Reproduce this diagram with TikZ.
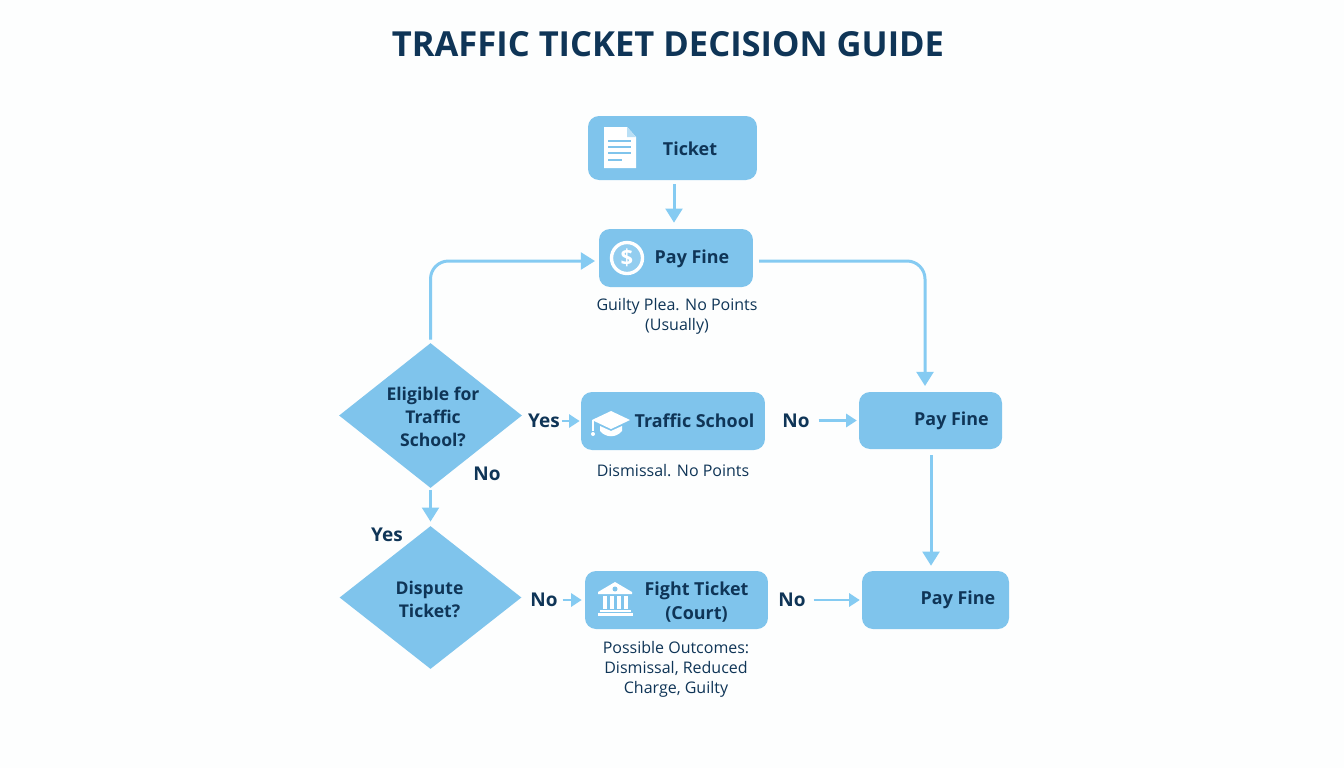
\documentclass[tikz,border=0pt]{standalone}
\usepackage{fontspec}
\setmainfont{Open Sans}
\usetikzlibrary{arrows.meta,shapes.geometric}
\definecolor{boxblue}{HTML}{7FC4EC}
\definecolor{flowblue}{HTML}{85CBF2}
\definecolor{inkblue}{HTML}{0F3557}
\definecolor{pagewhite}{HTML}{FDFEFE}
\tikzset{
  box/.style={fill=boxblue,rounded corners=0.22cm,inner sep=0pt},
  choice/.style={diamond,fill=boxblue,inner sep=0pt,aspect=1.26},
  choicetext/.style={text=inkblue,align=center,font=\fontsize{10}{13}\selectfont\bfseries},
  boxtext/.style={text=inkblue,align=center,font=\fontsize{10.2}{13.6}\selectfont\bfseries},
  flowtext/.style={text=inkblue,inner sep=1pt,font=\fontsize{10.8}{13}\selectfont\bfseries},
  note/.style={text=inkblue,align=center,font=\fontsize{9.1}{11.5}\selectfont},
  flow/.style={draw=flowblue,line width=1.7pt,-{Triangle[length=8pt,width=9.5pt]}},
  stub/.style={draw=flowblue,line width=1.3pt,-{Triangle[length=6pt,width=7.5pt]}},
}
\newcommand\docicon[2]{
  \begin{scope}[shift={(#1,#2)}]
    \fill[white] (0,0) -- (23,0) -- (32,10) -- (32,41) -- (0,41) -- cycle;
    \fill[boxblue!55] (23,0) -- (32,10) -- (23,10) -- cycle;
    \foreach \liney/\lineend in {14/27,20/27,26/27,33/18}
      \draw[boxblue,line width=0.9pt] (4,\liney) -- (\lineend,\liney);
  \end{scope}
}
\newcommand\dollaricon[2]{
  \draw[white,line width=1.9pt,fill=boxblue!85!white] (#1,#2) circle (15.5);
  \node[white,font=\fontsize{12.5}{14}\selectfont\bfseries] (dollarsign) at (#1,#2) {\$};
}
\newcommand\capicon[2]{
  \begin{scope}[shift={(#1,#2)}]
    \fill[white] (0,9) -- (19,0) -- (38,9) -- (19,18) -- cycle;
    \fill[white] (8,15) -- (19,20) -- (30,15) -- (30,20) .. controls (24,27) and (14,27) .. (8,20) -- cycle;
    \draw[white,line width=0.8pt] (1,9) -- (1,20);
    \fill[white] (1,23) circle (2);
  \end{scope}
}
\newcommand\bankicon[2]{
  \begin{scope}[shift={(#1,#2)}]
    \fill[white] (17,0) -- (34,10) -- (34,12) -- (0,12) -- (0,10) -- cycle;
    \fill[boxblue] (17,7) circle (2.5);
    \foreach \colx in {5,12,19,26}
      \fill[white] (\colx,14) rectangle ++(3.5,13);
    \fill[white] (2,28) rectangle (33,30);
    \fill[white] (0,31) rectangle (35,34);
  \end{scope}
}

\begin{document}
\begin{tikzpicture}[x=0.02cm,y=-0.02cm]
      \useasboundingbox[fill=pagewhite] (0,0) rectangle (1344,768);

      \node[text=inkblue,font=\fontsize{19.65}{24}\selectfont\bfseries] (title) at (668,44) {TRAFFIC TICKET DECISION GUIDE};

      % boxes
      \node[box,minimum width=3.38cm,minimum height=1.28cm] (ticket) at (672.5,148) {};
      \node[box,minimum width=3.08cm,minimum height=1.16cm] (payfine) at (676,258) {};
      \node[box,minimum width=3.68cm,minimum height=1.16cm] (school) at (673,421) {};
      \node[box,minimum width=2.86cm,minimum height=1.14cm] (finetwo) at (930.5,420.5) {};
      \node[box,minimum width=3.66cm,minimum height=1.16cm] (court) at (676.5,600) {};
      \node[box,minimum width=2.94cm,minimum height=1.16cm] (finethree) at (935.5,600) {};

      \node[choice,minimum width=3.66cm,minimum height=2.9cm] (eligible) at (430.5,415.5) {};
      \node[choice,minimum width=3.64cm,minimum height=2.86cm] (dispute) at (430.5,597.5) {};

      % box texts
      \node[boxtext] (tickettext) at (690,148.5) {Ticket};
      \node[boxtext] (paytext) at (692,259) {Pay Fine};
      \node[boxtext] (schooltext) at (694.5,421) {Traffic School};
      \node[boxtext] (finetwotext) at (951.5,421) {Pay Fine};
      \node[boxtext] (courttext) at (696.5,602) {Fight Ticket\\(Court)};
      \node[boxtext] (finethreetext) at (958,600) {Pay Fine};
      \node[choicetext] (eligibletext) at (433,417) {Eligible for\\Traffic\\School?};
      \node[choicetext] (disputetext) at (429.5,599.5) {Dispute\\Ticket?};

      % notes
      \node[note] (paynote) at (677,316) {Guilty Plea. No Points\\(Usually)};
      \node[note] (schoolnote) at (673,470.5) {Dismissal. No Points};
      \node[note] (courtnote) at (676,669.5) {Possible Outcomes:\\Dismissal, Reduced\\Charge, Guilty};

      % connector labels
      \node[flowtext] (yesschool) at (544,421) {Yes};
      \node[flowtext] (nofine) at (796,420.5) {No};
      \node[flowtext] (nocourt) at (544,600) {No};
      \node[flowtext] (nofinethree) at (792,600) {No};
      \node[flowtext] (nodown) at (487,474) {No};
      \node[flowtext] (yesdown) at (387,535) {Yes};

      \docicon{604}{127}
      \dollaricon{627}{258}
      \capicon{592}{411}
      \bankicon{598}{582}

      % connectors
      \coordinate (ticketout) at (674,184);
      \coordinate (payin) at (595,261);
      \coordinate (payout) at (759,261);
      \coordinate (finein) at (925,386);
      \coordinate (finetwoout) at (931,455);
      \draw[flow] (ticketout) -- ([yshift=3.4pt]ticketout |- payfine.north);
      \draw[flow,rounded corners=0.36cm] ([yshift=1.7pt]eligible.north) |- (payin);
      \draw[flow,rounded corners=0.36cm] (payout) -| (finein);
      \draw[flow] ([yshift=-1.1pt]eligible.south) -- ([yshift=2.3pt]dispute.north);
      \draw[flow] (finetwoout) -- ([yshift=2.8pt]finetwoout |- finethree.north);
      \draw[stub] (yesschool.east) -- ([xshift=-0.6pt]school.west);
      \draw[stub] ([xshift=4pt]nofine.east) -- ([xshift=-1.1pt]finetwo.west);
      \draw[stub] ([xshift=1.7pt]nocourt.east) -- ([xshift=-1.7pt]court.west);
      \draw[stub] ([xshift=3.4pt]nofinethree.east) -- ([xshift=-1.1pt]finethree.west);
\end{tikzpicture}
\end{document}
